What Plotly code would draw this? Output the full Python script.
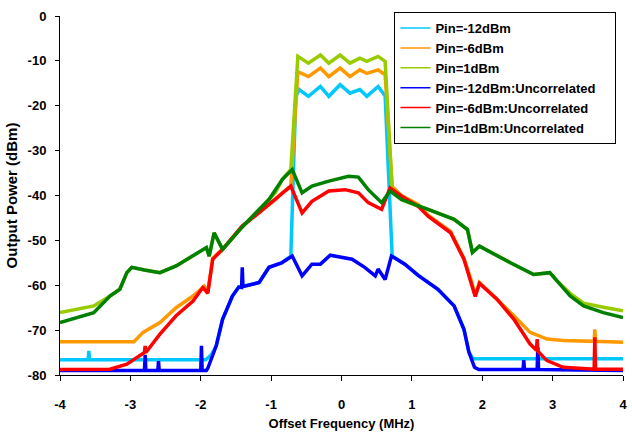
import plotly.graph_objects as go

# ---------------- data ----------------
# Pin=-12dBm (correlated)
x_c12 = [-4.0, -3.60, -3.59, -3.58, -1.93, -1.85, -1.78, -1.69, -1.55, -1.46, -1.17, -1.03, -0.85,
         -0.72, -0.65, -0.60, -0.47, -0.30, -0.18, -0.02, 0.12, 0.26, 0.36, 0.52, 0.62,
         0.72, 0.90, 1.09, 1.37, 1.60, 1.74, 1.81, 1.87, 4.0]
y_c12 = [-76.6, -76.6, -74.6, -76.6, -76.6, -75.5, -73.5, -67.6, -62.4, -60.4, -59.4, -56.0, -55.0,
         -53.5, -18.0, -16.4, -17.9, -15.7, -17.9, -15.3, -17.2, -16.4, -17.9, -15.7, -17.8,
         -53.5, -55.3, -57.8, -60.9, -64.6, -69.8, -74.9, -76.4, -76.4]

# Pin=-6dBm (correlated)
x_c6 = [-4.0, -2.95, -2.82, -2.58, -2.35, -2.11, -1.95, -1.90, -1.83, -1.69, -1.41, -1.17, -0.94, -0.84,
        -0.72, -0.62, -0.47, -0.30, -0.18, -0.02, 0.12, 0.26, 0.36, 0.52, 0.62,
        0.72, 0.85, 1.09, 1.23, 1.55, 1.74, 1.84, 1.90, 1.96, 2.21, 2.45, 2.68, 2.92, 3.15,
        3.59, 3.60, 3.61, 4.0]
y_c6 = [-72.6, -72.6, -70.5, -68.3, -65.0, -62.4, -60.2, -61.5, -54.0, -52.0, -46.8, -43.8, -40.9, -39.4,
        -37.9, -12.4, -13.5, -11.6, -13.5, -11.6, -13.5, -12.0, -12.8, -12.0, -13.1,
        -38.0, -40.0, -42.0, -44.4, -48.0, -54.0, -58.7, -62.3, -59.4, -63.1, -66.8, -70.5, -72.0, -72.3,
        -72.5, -69.8, -72.5, -72.7]

# Pin=1dBm (correlated)
x_c1 = [-4.0, -3.52, -3.29, -3.15, -3.05, -2.98, -2.80, -2.58, -2.35, -2.11, -1.92, -1.88, -1.81, -1.69,
        -1.41, -1.17, -0.94, -0.84, -0.72, -0.62, -0.47, -0.30, -0.18, -0.02, 0.12, 0.26, 0.36, 0.52,
        0.62, 0.72, 0.85, 1.09, 1.23, 1.60, 1.79, 1.86, 1.96, 2.40, 2.73, 2.96, 3.06, 3.25, 3.44,
        3.72, 4.0]
y_c1 = [-66.1, -64.6, -62.4, -60.9, -57.2, -56.0, -56.6, -57.2, -55.7, -53.5, -51.6, -53.5, -48.3, -52.0,
        -47.0, -43.1, -39.4, -36.4, -34.2, -9.0, -10.5, -8.7, -10.5, -8.7, -10.5, -9.4, -10.1, -9.0,
        -10.1, -38.5, -40.9, -42.4, -43.1, -45.3, -47.6, -52.7, -51.3, -55.0, -57.6, -57.2, -59.0, -61.8, -64.0,
        -64.9, -65.7]

# Pin=-12dBm:Uncorrelated
x_u12 = [-4.0, -2.80, -2.79, -2.78, -2.61, -2.60, -2.59, -2.00, -1.99, -1.98, -1.92, -1.90, -1.78, -1.69,
         -1.55, -1.46, -1.42, -1.41, -1.40, -1.17, -1.03, -0.85, -0.70, -0.56, -0.42, -0.30, -0.16, 0.0,
         0.15, 0.33, 0.48, 0.52, 0.62, 0.71, 0.90, 1.09, 1.37, 1.60, 1.74, 1.81, 1.89, 1.95, 2.58, 2.59,
         2.60, 2.78, 2.79, 2.80, 4.0]
y_u12 = [-79.0, -79.0, -75.5, -79.0, -79.0, -76.9, -79.0, -79.0, -73.5, -79.0, -79.0, -78.5, -73.5, -67.6,
         -62.4, -60.4, -60.5, -56.0, -60.3, -59.4, -56.0, -55.0, -53.5, -57.9, -55.3, -55.3, -53.3, -53.8,
         -54.2, -56.0, -57.9, -56.4, -58.7, -53.5, -55.3, -57.8, -60.9, -64.6, -69.8, -74.9, -78.3, -78.8, -78.8, -76.7,
         -78.8, -78.8, -73.8, -78.8, -79.0]

# Pin=-6dBm:Uncorrelated
x_u6 = [-4.0, -3.29, -3.05, -2.82, -2.80, -2.79, -2.78, -2.58, -2.35, -2.11, -1.97, -1.90, -1.83, -1.69,
        -1.41, -1.17, -1.03, -0.94, -0.84, -0.72, -0.56, -0.42, -0.18, 0.05, 0.24, 0.38, 0.57, 0.69, 0.85,
        1.09, 1.23, 1.55, 1.74, 1.84, 1.90, 1.96, 2.21, 2.45, 2.68, 2.77, 2.78, 2.79, 2.92, 3.15, 3.59,
        3.60, 3.61, 4.0]
y_u6 = [-78.8, -78.7, -77.6, -75.2, -75.0, -73.5, -75.0, -70.9, -66.8, -63.5, -60.5, -61.8, -54.2, -52.0,
        -46.8, -43.8, -42.0, -40.9, -39.4, -37.9, -43.9, -41.3, -39.0, -38.7, -39.4, -41.6, -43.1, -38.3, -40.1,
        -42.4, -44.6, -48.3, -54.2, -59.0, -62.5, -59.6, -63.1, -67.6, -73.1, -74.5, -72.0, -74.7, -76.8, -78.3, -78.7,
        -71.6, -78.7, -78.7]

# Pin=1dBm:Uncorrelated
x_u1 = [-4.0, -3.52, -3.29, -3.15, -3.05, -2.98, -2.80, -2.58, -2.35, -2.11, -1.92, -1.88, -1.81, -1.69,
        -1.41, -1.17, -1.03, -0.84, -0.70, -0.56, -0.42, -0.18, 0.10, 0.24, 0.38, 0.57, 0.69, 0.85, 1.09,
        1.23, 1.60, 1.79, 1.86, 1.96, 2.40, 2.73, 2.96, 3.06, 3.25, 3.44, 3.72, 4.0]
y_u1 = [-68.3, -66.1, -62.4, -60.9, -57.2, -56.0, -56.6, -57.2, -55.7, -53.5, -51.6, -53.5, -48.3, -52.0,
        -47.0, -43.1, -40.9, -36.4, -34.2, -39.4, -37.9, -36.8, -35.7, -35.9, -38.7, -41.6, -39.0, -40.9, -42.4,
        -43.1, -45.3, -47.6, -52.7, -51.3, -55.0, -57.6, -57.2, -59.0, -62.4, -64.6, -66.1, -67.2]

names = ["Pin=-12dBm", "Pin=-6dBm", "Pin=1dBm",
         "Pin=-12dBm:Uncorrelated", "Pin=-6dBm:Uncorrelated", "Pin=1dBm:Uncorrelated"]
colors = ["#00C8FF", "#FF9900", "#99CC00", "#0000FF", "#FF0000", "#008000"]
series_x = [x_c12, x_c6, x_c1, x_u12, x_u6, x_u1]
series_y = [y_c12, y_c6, y_c1, y_u12, y_u6, y_u1]

x_ticks = [-4, -3, -2, -1, 0, 1, 2, 3, 4]
y_ticks = [0, -10, -20, -30, -40, -50, -60, -70, -80]

# ---------------- figure ----------------
fig = go.Figure()
for xs, ys, c in zip(series_x, series_y, colors):
    fig.add_trace(go.Scatter(x=xs, y=ys, mode="lines", line=dict(color=c, width=3.5),
                             showlegend=False, hoverinfo="skip"))
# legend entries with thin sample lines (trailing no-break spaces widen the box)
pad = "\u00a0" * 4
for n, c in zip(names, colors):
    fig.add_trace(go.Scatter(x=[None], y=[None], mode="lines", name=n + pad,
                             line=dict(color=c, width=1.5)))

font_family = "Liberation Sans, Arial, sans-serif"
fig.update_layout(
    width=632, height=434,
    margin=dict(l=60, r=5, t=16, b=58),
    paper_bgcolor="white", plot_bgcolor="white",
    font=dict(family=font_family, size=12, color="black", weight="bold"),
    legend=dict(x=0.594, y=1.011, xanchor="left", yanchor="top",
                bordercolor="black", borderwidth=1, bgcolor="white",
                font=dict(family=font_family, size=13, color="black", weight="bold"),
                itemwidth=30, tracegroupgap=0),
    xaxis=dict(range=[-4, 4], tickvals=x_ticks, ticktext=[str(v) for v in x_ticks],
               showline=True, linecolor="black", linewidth=1, mirror=False,
               ticks="outside", ticklen=5, tickcolor="black", showgrid=False, zeroline=False,
               ticklabelstandoff=12, tickfont=dict(size=13),
               title=dict(text="Offset Frequency (MHz)", standoff=8,
                          font=dict(family=font_family, size=13, weight="bold"))),
    yaxis=dict(range=[-80, 0], tickvals=y_ticks, ticktext=[str(v) for v in y_ticks],
               showline=True, linecolor="black", linewidth=1, mirror=False,
               ticks="outside", ticklen=4, tickcolor="black", showgrid=False, zeroline=False,
               ticklabelstandoff=6, tickfont=dict(size=13),
               title=dict(text="Output Power (dBm)", standoff=6,
                          font=dict(family=font_family, size=15, weight="bold"))),
)

fig.write_html("out.html")
